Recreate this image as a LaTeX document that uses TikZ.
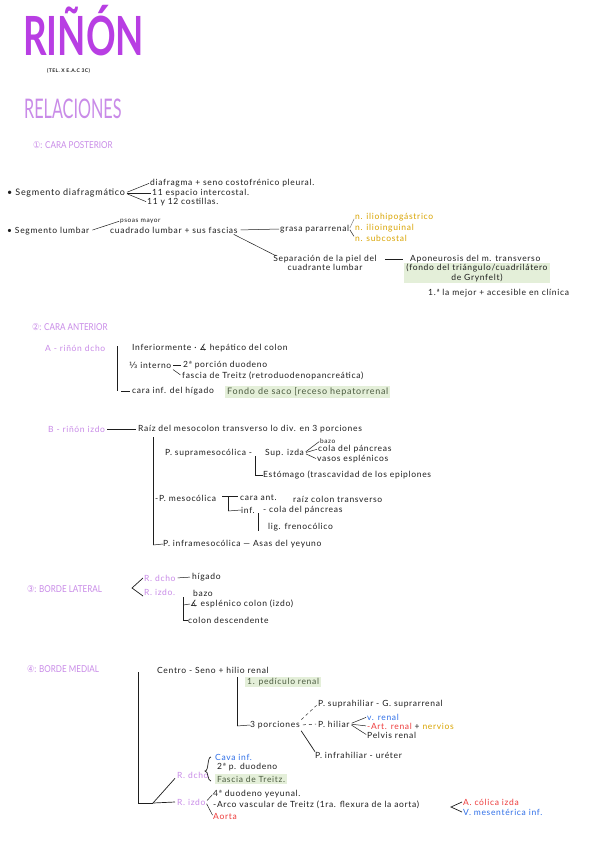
\documentclass[tikz,border=0pt]{standalone}
\usepackage{fontspec}
\setmainfont{Lato}
\newfontfamily\hand[LetterSpace=8]{Lato}
\newfontfamily\dejavu{DejaVu Sans}
\usetikzlibrary{backgrounds}
\definecolor{tpurple}{HTML}{B83EE3}
\definecolor{lpurple}{HTML}{C98BE8}
\definecolor{gold}{HTML}{D9A400}
\definecolor{hblue}{HTML}{2F6FE8}
\definecolor{hred}{HTML}{EE3B3B}
\definecolor{hlgreen}{HTML}{E4EFD9}
\definecolor{hltext}{HTML}{4B5B40}
\definecolor{ink}{HTML}{1E1E1E}
\newcommand{\hdtxt}[2]{\scalebox{0.85}[1]{{\dejavu #1}: #2}}
\begin{document}
\begin{tikzpicture}[x=1pt,y=-1pt,
  txt/.style={anchor=west, inner sep=0pt, text=ink, font=\hand\fontsize{8.5}{9.5}\selectfont},
  sm/.style={font=\hand\fontsize{6.5}{7.5}\selectfont},
  head/.style={anchor=west, inner sep=0pt, text=lpurple, font=\fontsize{9.5}{10.5}\selectfont},
  lp/.style={text=lpurple},
  hl/.style={fill=hlgreen, inner xsep=2pt, inner ysep=1.5pt},
  ln/.style={draw=ink, line width=0.5pt},
  brk/.style={draw=ink, line width=0.9pt}]
\useasboundingbox[fill=white] (0,0) rectangle (601,848);

% Title
\node[anchor=west, inner sep=0pt, text depth=0pt, text=tpurple, font=\fontsize{54}{56}\bfseries] (title) at (23,30) {\scalebox{0.68}[1]{RIÑÓN}};
\node[anchor=west, inner sep=0pt, text=ink, font=\hand\fontsize{5}{6}\bfseries] (subt) at (47,71) {(TEL. X E.A.C 3C)};
\node[anchor=west, inner sep=0pt, text=lpurple, font=\fontsize{27}{28}\selectfont] (rel) at (24,109) {\scalebox{0.6}[1]{RELACIONES}};

% Section 1
\node[head] (h1) at (33,145) {\hdtxt{①}{CARA POSTERIOR}};
\node[txt, font=\hand\fontsize{9}{10}\selectfont] (seg1) at (7,193) {• Segmento diafragmático};
\node[txt] (d1) at (150,183) {diafragma + seno costofrénico pleural.};
\node[txt] (d2) at (152,193) {11 espacio intercostal.};
\node[txt] (d3) at (147,202) {11 y 12 costillas.};
\draw[ln, shorten <=2pt, shorten >=1pt] (seg1.east) -- (d1.west);
\draw[ln, shorten <=2pt, shorten >=1pt] (seg1.east) -- (d2.west);
\draw[ln, shorten <=2pt, shorten >=1pt] (seg1.east) -- (d3.west);

\node[txt] (seg2) at (7,231) {• Segmento lumbar};
\node[txt, sm] (ps) at (120,221) {psoas mayor};
\node[txt] (cl) at (110,230) {cuadrado lumbar + sus fascias};
\draw[ln, shorten <=3pt, shorten >=1pt] (seg2.east) -- (ps.west);
\node[txt] (gp) at (280,229) {grasa pararrenal};
\draw[ln, shorten <=3pt, shorten >=1pt] (cl.east) -- (gp.west);
\node[txt, text=gold] (n1) at (355,217) {n. iliohipogástrico};
\node[txt, text=gold] (n2) at (355,228) {n. ilioinguinal};
\node[txt, text=gold] (n3) at (355,238) {n. subcostal};
\draw[ln, draw=gray, shorten <=1pt, shorten >=2pt] (gp.east) -- (n1.west);
\draw[ln, shorten <=1pt, shorten >=2pt] (gp.east) -- (n3.west);
\node[txt, anchor=center, align=center] (sep) at (325,263) {Separación de la piel del\\cuadrante lumbar};
\draw[ln] ([xshift=-4pt,yshift=-1pt]cl.south east) -- ([xshift=3pt,yshift=-1pt]sep.north west);
\node[txt] (apo) at (410,259) {Aponeurosis del m. transverso};
\draw[ln, shorten <=8pt, shorten >=7pt] (sep.east |- apo.west) -- (apo.west);
\node[txt, hl, anchor=center, align=center] (fondo) at (477,273) {(fondo del triángulo/cuadrilátero\\de Grynfelt)};
\node[txt] (mejor) at (428,293) {1.ª la mejor + accesible en clínica};
\begin{scope}[on background layer]
\fill[hlgreen] ([xshift=40pt,yshift=-2pt]mejor.south west) rectangle ([xshift=4pt,yshift=1pt]mejor.north east);
\end{scope}

% Section 2
\node[head] (h2) at (32,327) {\hdtxt{②}{CARA ANTERIOR}};
\node[txt, lp] (rd) at (45,348) {A - riñón dcho};
\coordinate (b2t) at (117,346);
\coordinate (b2b) at (117,391);
\draw[brk] (b2t) -- (b2b);
\node[txt] (inf) at (132,348) {Inferiormente · {\dejavu ∡} hepático del colon};
\node[txt] (int) at (129,365) {{\dejavu ⅓} interno};
\node[txt] (duo) at (183,365) {2ª porción duodeno};
\node[txt] (tre) at (182,376) {fascia de Treitz (retroduodenopancreática)};
\draw[ln, shorten <=2pt, shorten >=2pt] (int.east) -- (duo.west);
\draw[ln, shorten <=2pt, shorten >=2pt] (int.south east) -- (tre.west);
\node[txt] (hig) at (132,391) {cara inf. del hígado};
\draw[ln, shorten <=4pt, shorten >=2pt] (b2b) -- (hig.west);
\node[txt, hl, text=hltext, font=\hand\fontsize{9}{10}\selectfont] (fondo2) at (225,392) {Fondo de saco [receso hepatorrenal};

\node[txt, lp] (ri) at (48,429) {B - riñón izdo};
\node[txt] (raiz) at (138,429) {Raíz del mesocolon transverso lo div. en 3 porciones};
\draw[ln, shorten <=2pt, shorten >=2pt] (ri.east) -- (raiz.west);
\coordinate (v2t) at (153,437);
\coordinate (v2b) at (153,545);
\draw[brk] (v2t) -- (v2b);
\node[txt] (psup) at (165,453) {P. supramesocólica -};
\coordinate (v3t) at (255,456);
\coordinate (v3b) at (255,475);
\draw[brk] (v3t) -- (v3b);
\node[txt] (supiz) at (265,453) {Sup. izda};
\node[txt, sm] (bazo) at (320,441) {bazo};
\node[txt] (cola) at (318,449) {cola del páncreas};
\node[txt] (vasos) at (317,459) {vasos esplénicos};
\draw[ln, shorten <=2pt, shorten >=1pt] (supiz.east) -- (bazo.west);
\draw[ln, shorten <=2pt, shorten >=1pt] (supiz.east) -- (cola.west);
\draw[ln, shorten <=2pt, shorten >=1pt] (supiz.east) -- (vasos.west);
\node[txt] (est) at (263,475) {Estómago (trascavidad de los epiplones};
\draw[ln] (v3b) -- (est.west);
\node[txt] (pmes) at (155,498) {-P. mesocólica};
\coordinate (t1) at (222,496);
\coordinate (t2) at (238,496);
\coordinate (t3) at (228,496);
\coordinate (t4) at (228,511);
\draw[brk] (t1) -- (t2) (t3) -- (t4);
\node[txt] (cant) at (240,498) {cara ant.};
\node[txt] (rct) at (293,499) {raíz colon transverso};
\node[txt] (cinf) at (241,510) {inf.};
\draw[ln] (t4) -- (cinf.west);
\coordinate (v4t) at (258,513);
\coordinate (v4b) at (258,531);
\draw[brk] (v4t) -- (v4b);
\node[txt] (colap) at (263,510) {- cola del páncreas};
\node[txt] (lig) at (268,527) {lig. frenocólico};
\node[txt] (pinf) at (163,544) {P. inframesocólica — Asas del yeyuno};
\draw[ln] (v2b) -- (pinf.west);

% Section 3
\node[head] (h3) at (27,589) {\hdtxt{③}{BORDE LATERAL}};
\node[txt, lp] (r3d) at (144,578) {R. dcho};
\node[txt, lp] (r3i) at (144,592) {R. izdo.};
\coordinate (ap3) at (132,588);
\draw[ln, line width=0.7pt] ([xshift=-1pt]r3d.west) -- (ap3) -- ([xshift=-1pt,yshift=-4pt]r3i.west);
\node[txt] (hig3) at (192,577) {hígado};
\draw[ln, shorten <=2pt, shorten >=2pt] (r3d.east) -- (hig3.west);
\node[txt] (bazo3) at (193,593) {bazo};
\node[txt] (esp) at (190,604) {{\dejavu ∡} esplénico colon (izdo)};
\node[txt] (cdes) at (188,620) {colon descendente};
\coordinate (v5t) at (183,597);
\coordinate (v5b) at (183,620);
\draw[brk] (v5t) -- (v5b);
\draw[ln] (v5b) -- (cdes.west);
\draw[ln] (183,605) -- (esp.west);

% Section 4
\node[head] (h4) at (27,669) {\hdtxt{④}{BORDE MEDIAL}};
\coordinate (v6t) at (138,672);
\coordinate (v6b) at (138,803);
\coordinate (j4) at (153,803);
\draw[brk] (v6t) -- (v6b) -- (j4);
\node[txt] (centro) at (157,670) {Centro - Seno + hilio renal};
\coordinate (v7t) at (237,677);
\coordinate (v7b) at (237,726);
\draw[brk] (v7t) -- (v7b);
\node[txt, hl, text=hltext] (ped) at (245,682) {1. pedículo renal};
\node[txt] (tres) at (250,725) {3 porciones};
\draw[ln] (v7b) -- (tres.west);
\node[txt] (psh) at (318,704) {P. suprahiliar - G. suprarrenal};
\draw[ln, dashed, shorten <=2pt, shorten >=2pt] (tres.north east) -- (psh.west);
\node[txt] (ph) at (318,724) {P. hiliar};
\draw[ln, dashed, shorten <=3pt, shorten >=2pt] (tres.east) -- (ph.west);
\node[txt, text=hblue] (vr) at (367,717) {v. renal};
\node[txt] (ar) at (367,726) {\textcolor{hred}{-Art. renal} + \textcolor{gold}{nervios}};
\node[txt] (pel) at (367,735) {Pelvis renal};
\draw[ln, shorten <=2pt, shorten >=1pt] (ph.east) -- (vr.west);
\draw[ln, shorten <=2pt, shorten >=1pt] (ph.east) -- (ar.west);
\draw[ln, shorten <=2pt, shorten >=1pt] (ph.east) -- (pel.west);
\node[txt] (pih) at (315,755) {P. infrahiliar - uréter};
\draw[ln, line width=0.7pt, shorten <=2pt] (tres.south east) -- (pih.north west);

\node[txt, lp] (r4d) at (177,775) {R. dcho};
\node[txt, lp] (r4i) at (177,802) {R. izdo};
\draw[ln, line width=0.7pt] (j4) -- ([xshift=-2pt]r4d.south west);
\draw[ln, line width=0.7pt] (j4) -- ([xshift=-2pt]r4i.west);
\node[txt, text=hblue] (cava) at (215,757) {Cava inf.};
\node[txt] (p2d) at (217,767) {2ª p. duodeno};
\node[txt, hl, text=hltext] (ftr) at (215,779) {Fascia de Treitz.};
\coordinate (br1) at (211,757);
\coordinate (br2) at (211,781);
\coordinate (brm) at (205,771);
\draw[ln, line width=0.7pt] (br1) .. controls (207,757) and (209,771) .. (brm) .. controls (209,771) and (207,781) .. (br2);
\node[txt] (d4) at (213,794) {4ª duodeno yeyunal.};
\node[txt] (arco) at (213,805) {-Arco vascular de Treitz (1ra. flexura de la aorta)};
\node[txt, text=hred] (aor) at (213,816) {Aorta};
\draw[ln, shorten <=2pt, shorten >=1pt] (r4i.east) -- (d4.west);
\draw[ln, shorten <=2pt, shorten >=1pt] (r4i.east) -- (aor.west);
\coordinate (ap4) at (451,807);
\node[txt, text=hred] (aci) at (463,802) {A. cólica izda};
\node[txt, text=hblue] (vmi) at (463,812) {V. mesentérica inf.};
\draw[ln, line width=0.7pt] ([xshift=-1pt]aci.west) -- (ap4) -- ([xshift=-1pt]vmi.west);
\end{tikzpicture}
\end{document}
